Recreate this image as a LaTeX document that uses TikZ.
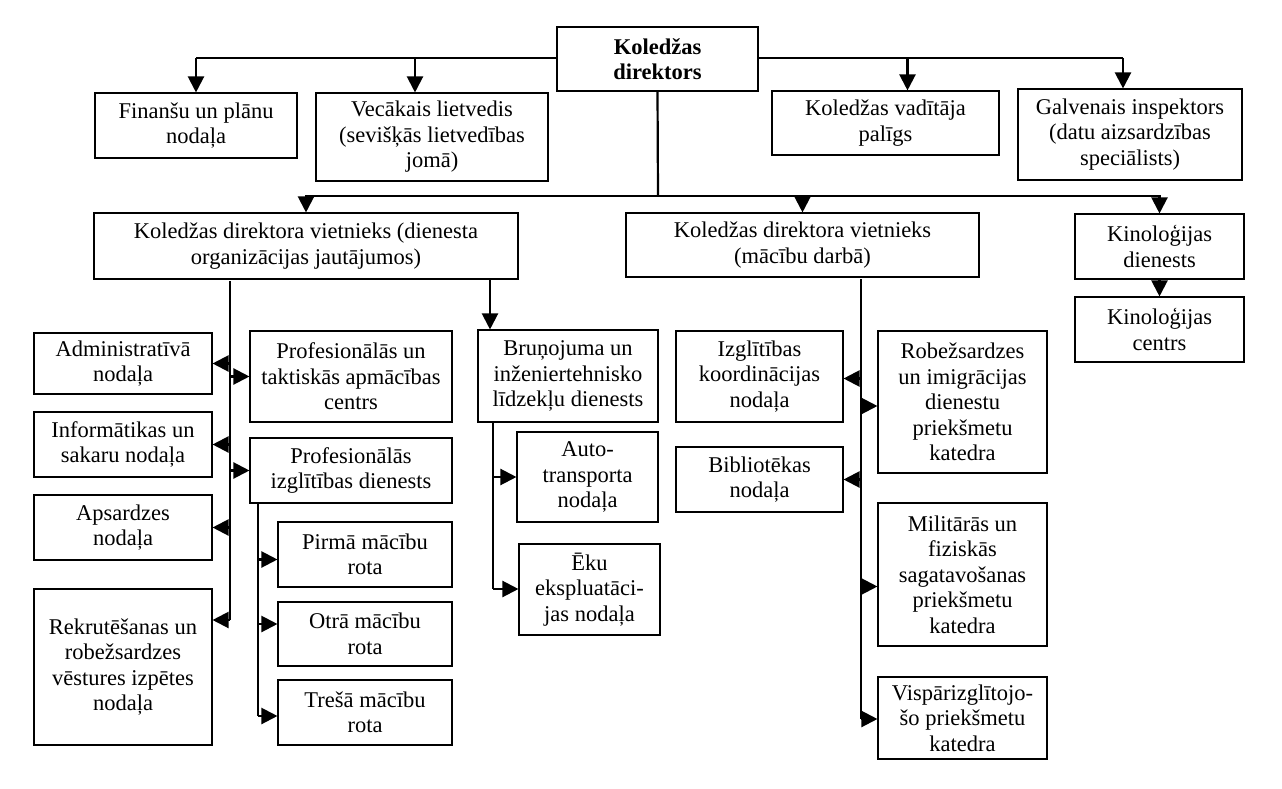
\documentclass[tikz,border=0pt]{standalone}
\usepackage{fontspec}
\setmainfont{Liberation Serif}
\usetikzlibrary{arrows.meta}
\begin{document}
\begin{tikzpicture}[x=1pt,y=-1pt,
  box/.style={draw,line width=1.1pt,fill=white,align=center,inner xsep=2pt,inner ysep=2pt,
    font=\fontsize{22.5}{25.5}\selectfont},
  conn/.style={line width=2.2pt},
  arr/.style={line width=2.2pt,-{Triangle[length=16pt,width=16pt]}}]
\useasboundingbox (0,0) rectangle (1282,789);
\newcommand{\bx}[6]{\node[box,minimum width={#4-#2},minimum height={#5-#3}] (#1) at ({(#2+#4)/2},{(#3+#5)/2}) {#6};}
% top
\draw[conn] (196,58) coordinate (tl) -- (1123,58) coordinate (tr);
\bx{dir}{557}{27}{758}{91}{\textbf{Koledžas}\\\textbf{direktors}}
\bx{fin}{95}{93}{297}{158}{Finanšu un plānu\\nodaļa}
\bx{vec}{316}{93}{548}{181}{Vecākais lietvedis\\(sevišķās lietvedības\\jomā)}
\bx{pal}{772}{91}{999}{155}{Koledžas vadītāja\\palīgs}
\bx{gal}{1018}{89}{1242}{180}{Galvenais inspektors\\(datu aizsardzības\\speciālists)}
\draw[arr] (tl) -- (tl |- fin.north);
\draw[arr] ([xshift=-17pt]vec.north |- tl) -- ([xshift=-17pt]vec.north);
\draw[arr] ([xshift=22pt]pal.north |- tl) -- ([xshift=22pt]pal.north);
\draw[arr] (tr) -- (tr |- gal.north);
% second level
\bx{v1}{94}{213}{518}{279}{Koledžas direktora vietnieks (dienesta\\organizācijas jautājumos)}
\bx{v2}{626}{213}{979}{277}{Koledžas direktora vietnieks\\(mācību darbā)}
\bx{kd}{1075}{214}{1244}{279}{Kinoloģijas\\dienests}
\bx{kc}{1075}{297}{1244}{362}{Kinoloģijas\\centrs}
\coordinate (hub) at (658,196);
\draw[conn] (dir.south) -- (hub);
\draw[arr] (hub) -| (v1.north);
\draw[arr] (hub) -| (v2.north);
\draw[arr] (hub) -| (kd.north);
\draw[arr] (kd.south) -- (kc.north);
% left branch
\bx{adm}{34}{333}{212}{394}{Administratīvā\\nodaļa}
\bx{inf}{34}{412}{212}{477}{Informātikas un\\sakaru nodaļa}
\bx{aps}{34}{495}{212}{560}{Apsardzes\\nodaļa}
\bx{rek}{34}{589}{212}{745}{Rekrutēšanas un\\robežsardzes\\vēstures izpētes\\nodaļa}
\bx{ptc}{250}{331}{452}{422}{Profesionālās un\\taktiskās apmācības\\centrs}
\bx{pid}{250}{438}{452}{503}{Profesionālās\\izglītības dienests}
\bx{ra}{278}{522}{452}{587}{Pirmā mācību\\rota}
\bx{rb}{278}{602}{452}{666}{Otrā mācību\\rota}
\bx{rc}{278}{680}{452}{745}{Trešā mācību\\rota}
\coordinate (T1) at (230,281);
\coordinate (T1e) at (230,620);
\draw[conn] (T1) -- (T1e);
\draw[arr] (T1 |- adm.east) -- (adm.east);
\draw[arr] (T1 |- ptc.west) -- (ptc.west);
\draw[arr] (T1 |- inf.east) -- (inf.east);
\draw[arr] (T1 |- pid.west) -- (pid.west);
\draw[arr] (T1 |- aps.east) -- (aps.east);
\draw[arr] (T1e) -- (T1e -| rek.east);
\coordinate (T2) at (258,503);
\coordinate (T2e) at (258,716);
\draw[conn] (T2) -- (T2e);
\draw[arr] ([yshift=-5pt]T2 |- ra.west) -- ([yshift=-5pt]ra.west);
\draw[arr] ([yshift=10pt]T2 |- rb.west) -- ([yshift=10pt]rb.west);
\draw[arr] (T2e) -- (T2e -| rc.west);
% middle branch
\bx{bru}{478}{330}{658}{422}{Bruņojuma un\\inženiertehnisko\\līdzekļu dienests}
\bx{aut}{517}{432}{658}{522}{Auto-\\transporta\\nodaļa}
\bx{eku}{519}{544}{660}{635}{Ēku\\ekspluatāci-\\jas nodaļa}
\draw[arr] ([xshift=-78pt]bru.north |- v1.south) -- ([xshift=-78pt]bru.north);
\coordinate (T3) at (493,422);
\coordinate (T3e) at (493,589);
\draw[conn] (T3) -- (T3e);
\draw[arr] (T3 |- aut.west) -- (aut.west);
\draw[arr] (T3e) -- (T3e -| eku.west);
% right branch
\bx{izg}{676}{331}{843}{422}{Izglītības\\koordinācijas\\nodaļa}
\bx{bib}{676}{447}{843}{512}{Bibliotēkas\\nodaļa}
\bx{rob}{878}{331}{1047}{473}{Robežsardzes\\un imigrācijas\\dienestu\\priekšmetu\\katedra}
\bx{mil}{878}{503}{1047}{646}{Militārās un\\fiziskās\\sagatavošanas\\priekšmetu\\katedra}
\bx{vis}{878}{677}{1047}{759}{Vispārizglītojo-\\šo priekšmetu\\katedra}
\coordinate (T4) at (861,279);
\coordinate (T4e) at (861,719);
\draw[conn] (T4) -- (T4e);
\draw[arr] ([yshift=-2pt]T4 |- izg.east) -- ([yshift=-2pt]izg.east);
\draw[arr] (T4 |- bib.east) -- (bib.east);
\draw[arr] ([yshift=-4pt]T4 |- rob.west) -- ([yshift=-4pt]rob.west);
\draw[arr] ([yshift=-12pt]T4 |- mil.west) -- ([yshift=-12pt]mil.west);
\draw[arr] (T4e) -- (T4e -| vis.west);
\end{tikzpicture}
\end{document}
